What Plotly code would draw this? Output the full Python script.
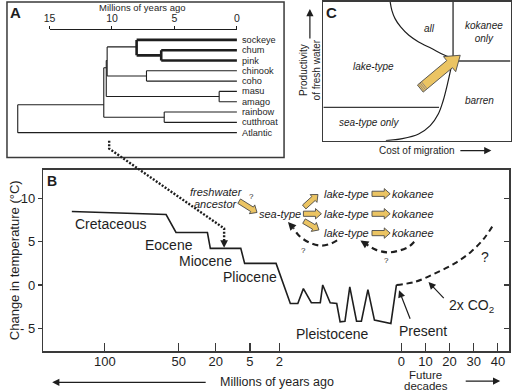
import math
import plotly.graph_objects as go

W, H = 515, 392
FONT = "Liberation Sans, Arial, Helvetica, sans-serif"
INK = "#1e1e1e"
FRAME = "#3a3a3a"
GOLD = "#EBC463"

# ---------------- Panel A: phylogeny (Millions of years ago) ----------------
species = ["sockeye", "chum", "pink", "chinook", "coho", "masu", "amago",
           "rainbow", "cutthroat", "Atlantic"]
species_row = [0, 1, 2, 3, 4, 5, 6, 7, 8, 9]
node_names = ["chum-pink", "sockeye-clade", "chinook-coho", "Oncorhynchus-1",
              "masu-amago", "Oncorhynchus-2", "rainbow-cutthroat",
              "Oncorhynchus-3", "root"]
node_age_myr = [6.06, 8.03, 7.24, 10.39, 1.42, 10.46, 5.82, 10.66, 17.55]
node_row = [1.5, 0.68, 3.5, 2.0, 5.5, 2.7, 7.5, 6.3, 7.6]
node_children = [["chum", "pink"], ["sockeye", "chum-pink"], ["chinook", "coho"],
                 ["sockeye-clade", "chinook-coho"], ["masu", "amago"],
                 ["Oncorhynchus-1", "masu-amago"], ["rainbow", "cutthroat"],
                 ["Oncorhynchus-2", "rainbow-cutthroat"], ["Oncorhynchus-3", "Atlantic"]]
lineage_highlight = ["sockeye", "chum", "pink", "chum-pink", "sockeye-clade"]
a_scale_ticks = [15, 10, 5, 0]

# ---------------- Panel B: temperature history (schematic time axis) ----------------
temp_pos = [-136.3, -97.3, -93.2, -80.2, -79.0, -66.4, -64.8, -51.8, -45.9, -42.8,
            -40.5, -37.2, -33.5, -32.5, -29.4, -26.7, -25.3, -23.3, -21.3, -18.5,
            -16.5, -13.8, -11.1, -4.3, -2.0]
temp_change = [8.5, 8.15, 6.07, 6.07, 4.23, 4.23, 2.5, 2.5, -2.15, -2.15,
               -0.42, -2.05, -2.05, 0.0, -2.05, -2.15, -4.27, -4.2, -0.23, -4.2,
               -4.2, -0.53, -4.07, -4.45, 0.0]
future_pos = [-2.0, 5.9, 14.0, 22.1, 28.9, 34.3, 38.4]
future_change = [0.0, 0.38, 1.35, 2.5, 3.85, 5.4, 7.1]
past_tick_labels = ["100", "50", "20", "5", "2"]
past_tick_pos = [-122.6, -92.1, -76.8, -62.6, -50.4]
future_tick_labels = ["0", "10", "20", "30", "40"]
future_tick_pos = [0, 10, 20, 30, 40]
temp_ticks = [10, 5, 0, -5]
temp_tick_text = ["10", "5", "0", "- 5"]
epochs = ["Cretaceous", "Eocene", "Miocene", "Pliocene", "Pleistocene"]

# ---------------- Panel C: conceptual regions ----------------
c_all_u = [0.357, 0.366, 0.383, 0.413, 0.457, 0.509, 0.579, 0.640, 0.681]
c_all_v = [1.0, 0.94, 0.88, 0.82, 0.76, 0.712, 0.664, 0.621, 0.599]
c_sea_u = [0.334, 0.422, 0.509, 0.571, 0.614, 0.640, 0.663, 0.681, 0.693]
c_sea_v = [0.0, 0.014, 0.048, 0.108, 0.192, 0.288, 0.408, 0.516, 0.588]
c_split_u = 0.693
c_split_v = 0.574
c_low_v = 0.240
c_low_end_u = 0.618
c_regions = ["all", "kokanee<br>only", "lake-type", "barren", "sea-type only"]


def fx(x):
    return x / W


def fy(y):
    return 1 - y / H


fig = go.Figure()

# ---- Panel A tree ----
row_of = dict(zip(species, species_row))
age_of = {s: 0.0 for s in species}
for n, a, r in zip(node_names, node_age_myr, node_row):
    age_of[n] = a
    row_of[n] = r
thin = ([], [])
thick = ([], [])
for n, kids in zip(node_names, node_children):
    a = age_of[n]
    rows = [row_of[k] for k in kids]
    t = thick if n in lineage_highlight else thin
    t[0].extend([a, a, None])
    t[1].extend([min(rows), max(rows), None])
    for k in kids:
        t = thick if (k in lineage_highlight and n in lineage_highlight) else thin
        t[0].extend([a, age_of[k], None])
        t[1].extend([row_of[k], row_of[k], None])

fig.add_trace(go.Scatter(x=thin[0], y=thin[1], mode="lines", xaxis="x2", yaxis="y2",
                         line=dict(color=INK, width=1.1), hoverinfo="skip"))
fig.add_trace(go.Scatter(x=thick[0], y=thick[1], mode="lines", xaxis="x2", yaxis="y2",
                         line=dict(color=INK, width=2.6), hoverinfo="skip"))
# dummy trace for the time scale axis of panel A
fig.add_trace(go.Scatter(x=[a_scale_ticks[0], a_scale_ticks[-1]], y=[0, 0], mode="markers",
                         xaxis="x4", yaxis="y4", marker=dict(opacity=0), hoverinfo="skip"))

# ---- Panel B temperature ----
fig.add_trace(go.Scatter(x=temp_pos, y=temp_change, mode="lines", xaxis="x", yaxis="y",
                         line=dict(color=INK, width=1.6), hoverinfo="skip"))
fig.add_trace(go.Scatter(x=future_pos, y=future_change, mode="lines", xaxis="x", yaxis="y",
                         line=dict(color=INK, width=2, dash="6px,4px", shape="spline"),
                         hoverinfo="skip"))
fig.add_trace(go.Scatter(x=[0], y=[0], mode="markers", xaxis="x", yaxis="y5",
                         marker=dict(opacity=0), hoverinfo="skip"))

# ---- Panel C ----
fig.add_trace(go.Scatter(x=c_all_u, y=c_all_v, mode="lines", xaxis="x3", yaxis="y3",
                         line=dict(color=INK, width=1.2, shape="spline"), hoverinfo="skip"))
fig.add_trace(go.Scatter(x=c_sea_u, y=c_sea_v, mode="lines", xaxis="x3", yaxis="y3",
                         line=dict(color=INK, width=1.2, shape="spline"), hoverinfo="skip"))
fig.add_trace(go.Scatter(x=[c_split_u, c_split_u, None, c_split_u, 1, None, 0, c_low_end_u],
                         y=[1, c_split_v, None, c_split_v, c_split_v, None, c_low_v, c_low_v],
                         mode="lines", xaxis="x3", yaxis="y3",
                         line=dict(color=FRAME, width=1.4), hoverinfo="skip"))

# ---------------- shapes & annotations ----------------
shapes = []
ann = []


def txt(x, y, text, size, bold=False, italic=False, angle=0, color=INK, pad=1):
    if italic:
        text = "<i>" + text + "</i>"
    if bold:
        text = "<b>" + text + "</b>"
    ann.append(dict(x=fx(x), y=fy(y), xref="paper", yref="paper", text=text,
                    showarrow=False, textangle=angle, xanchor="center", yanchor="middle",
                    borderpad=pad, font=dict(family=FONT, size=size, color=color)))


def arrow(tip, tail, width=1.2, size=1.2, color=INK):
    ann.append(dict(x=fx(tip[0]), y=fy(tip[1]), xref="paper", yref="paper", text="",
                    showarrow=True, ax=tail[0] - tip[0], ay=tail[1] - tip[1],
                    axref="pixel", ayref="pixel", arrowhead=2, arrowsize=size,
                    arrowwidth=width, arrowcolor=color, standoff=0, startstandoff=0))


def poly_path(pts, close=True):
    s = "M " + " L ".join(f"{fx(x):.5f},{fy(y):.5f}" for x, y in pts)
    return s + (" Z" if close else "")


def block_arrow(x0, y0, x1, y1, bw, hw, hl, fill=GOLD, line="#4a4a4a"):
    dx, dy = x1 - x0, y1 - y0
    L = math.hypot(dx, dy)
    ux, uy = dx / L, dy / L
    nx, ny = -uy, ux
    bx, by = x1 - ux * hl, y1 - uy * hl
    pts = [(x0 + nx * bw, y0 + ny * bw), (bx + nx * bw, by + ny * bw),
           (bx + nx * hw, by + ny * hw), (x1, y1), (bx - nx * hw, by - ny * hw),
           (bx - nx * bw, by - ny * bw), (x0 - nx * bw, y0 - ny * bw)]
    shapes.append(dict(type="path", xref="paper", yref="paper", path=poly_path(pts),
                       fillcolor=fill, line=dict(color=line, width=0.9)))
    return ux, uy, nx, ny


def smooth_path(pts):
    P = [(fx(x), fy(y)) for x, y in pts]
    d = f"M{P[0][0]:.5f},{P[0][1]:.5f}"
    for i in range(len(P) - 1):
        p0 = P[i - 1] if i > 0 else P[i]
        p1, p2 = P[i], P[i + 1]
        p3 = P[i + 2] if i + 2 < len(P) else P[i + 1]
        c1 = (p1[0] + (p2[0] - p0[0]) / 6, p1[1] + (p2[1] - p0[1]) / 6)
        c2 = (p2[0] - (p3[0] - p1[0]) / 6, p2[1] - (p3[1] - p1[1]) / 6)
        d += f" C{c1[0]:.5f},{c1[1]:.5f} {c2[0]:.5f},{c2[1]:.5f} {p2[0]:.5f},{p2[1]:.5f}"
    return d


# panel frames (A and B/C frames from axes)
shapes.append(dict(type="rect", xref="paper", yref="paper", x0=fx(1), x1=fx(283),
                   y0=fy(157), y1=fy(1), line=dict(color=FRAME, width=1.5)))

# dotted link from tree node to panel B
shapes.append(dict(type="path", xref="paper", yref="paper",
                   path=poly_path([(105, 140), (105, 148), (222, 228), (222, 241)], close=False),
                   line=dict(color=INK, width=2.4, dash="2px,1.6px")))
arrow((222, 247.5), (222, 239), width=1.4, size=1.1)

# panel A texts
txt(10, 12, "A", 15, bold=True)
txt(139, 7, "Millions of years ago", 9.5)
for s, r in zip(species, species_row):
    ann.append(dict(x=0, y=r, xref="x2", yref="y2", text=s, showarrow=False,
                    xanchor="left", yanchor="middle", xshift=3,
                    font=dict(family=FONT, size=9.2, color=INK)))

# panel C texts
txt(331, 12, "C", 15, bold=True)
c_label_xy = [(431, 28), (486, 31), (374, 66), (482, 100), (369, 122)]
for lab, (x, y) in zip(c_regions, c_label_xy):
    txt(x, y, lab, 10, italic=True)
txt(309, 69, "Productivity<br>of fresh water", 10, angle=-90)
arrow((309.3, 8), (309.3, 39))
txt(418, 150, "Cost of migration", 10)
arrow((494, 150), (461.5, 150))
ux, uy, nx, ny = block_arrow(421.7, 87.8, 462.3, 54.4, 4.6, 9.8, 14)
for d in (1.6, 3.4, 5.2):
    cx, cy = 421.7 + ux * d, 87.8 + uy * d
    shapes.append(dict(type="line", xref="paper", yref="paper",
                       x0=fx(cx + nx * 4.4), y0=fy(cy + ny * 4.4),
                       x1=fx(cx - nx * 4.4), y1=fy(cy - ny * 4.4),
                       line=dict(color="#8a8080", width=0.9)))

# panel B texts
txt(47, 180, "B", 14, bold=True)
epoch_xy = [(107, 224), (166, 245), (203, 260.5), (248, 276.5), (332.5, 334)]
for lab, (x, y) in zip(epochs, epoch_xy):
    txt(x, y, lab, 14)
txt(424, 330.5, "Present", 14)
arrow((400, 290), (411.7, 320))
txt(474, 305.5, "2x CO<sub>2</sub>", 14)
arrow((430, 281.7), (446.7, 299.3))
txt(488, 257, "?", 14)
txt(8, 260, "Change in temperature (°C)", 13, angle=-90)
txt(276, 382, "Millions of years ago", 12.5)
arrow((47, 382.3), (202, 382.3))
txt(427, 374.5, "Future", 11.5, pad=0)
txt(427, 386.3, "decades", 11.5, pad=0)
arrow((503, 381), (467, 381))

# life-history scenario in panel B
txt(214, 191, "freshwater", 11, italic=True)
txt(214, 204, "ancestor", 11, italic=True)
txt(250, 196.5, "?", 8)
block_arrow(237.3, 200.7, 255.5, 212, 2.6, 5.2, 6)
txt(279.2, 213.3, "sea-type", 11, italic=True)
lake_rows = [193.3, 213.3, 232.7]
block_arrow(303.5, 206.5, 317.5, 194, 2.6, 5.2, 6)
block_arrow(302.7, 213.3, 321, 213.3, 2.6, 5.2, 6)
block_arrow(303.3, 220.7, 318.5, 229.5, 2.6, 5.2, 6)
for y in lake_rows:
    txt(346.3, y, "lake-type", 11, italic=True)
    block_arrow(372.5, y, 391, y, 2.6, 5.2, 6)
    txt(414.2, y, "kokanee", 11, italic=True)

shapes.append(dict(type="path", xref="paper", yref="paper",
                   path=smooth_path([(337, 240), (330, 243.5), (320, 245.3), (308.3, 242),
                                     (298.3, 235.3), (292.6, 227.7)]),
                   line=dict(color=INK, width=2.2, dash="6px,4px")))
arrow((287, 221.5), (292.6, 227.7), width=1.8, size=0.9)
txt(302.7, 250.5, "?", 8)
shapes.append(dict(type="path", xref="paper", yref="paper",
                   path=smooth_path([(415.5, 241.5), (410, 246.3), (400, 250.3), (388.3, 252),
                                     (376.7, 249.5), (367.3, 244.4)]),
                   line=dict(color=INK, width=2.2, dash="6px,4px")))
arrow((360.7, 240), (367.3, 244.4), width=1.8, size=0.9)
txt(387.7, 260.5, "?", 8)

# ---------------- axes ----------------
B_x0, B_x1, B_y0, B_y1 = 38, 512, 351, 169
u_per_px = 1 / 2.46
b_xrange = [(B_x0 - 402.3) * u_per_px, (B_x1 - 402.3) * u_per_px]
b_yrange = [(284.7 - B_y0) / 8.667, (284.7 - B_y1) / 8.667]

axis_font = dict(family=FONT, size=13, color=INK)
fig.update_layout(
    width=W, height=H, autosize=False,
    margin=dict(l=0, r=0, t=0, b=0),
    paper_bgcolor="white", plot_bgcolor="rgba(0,0,0,0)",
    showlegend=False, hovermode=False,
    font=dict(family=FONT, color=INK),
    xaxis=dict(domain=[fx(B_x0), fx(B_x1)], range=b_xrange, anchor="y",
               showgrid=False, zeroline=False, showline=True, mirror=True,
               linecolor=FRAME, linewidth=1.5, ticks="inside", ticklen=8,
               tickcolor=FRAME, tickwidth=1.1, ticklabelstandoff=-2,
               tickvals=past_tick_pos + future_tick_pos,
               ticktext=past_tick_labels + future_tick_labels, tickfont=axis_font),
    yaxis=dict(domain=[fy(B_y0), fy(B_y1)], range=b_yrange, anchor="x",
               showgrid=False, zeroline=False, showline=True, mirror=True,
               linecolor=FRAME, linewidth=1.5, ticks="outside", ticklen=4,
               tickcolor=FRAME, tickwidth=1.1, tickvals=temp_ticks,
               ticktext=temp_tick_text, tickfont=axis_font),
    yaxis5=dict(overlaying="y", side="right", anchor="x", range=b_yrange,
                showgrid=False, zeroline=False, showline=False, ticks="inside",
                ticklen=5, tickcolor=FRAME, tickwidth=1.1, tickvals=temp_ticks,
                showticklabels=False),
    xaxis2=dict(domain=[fx(2), fx(282)], range=[(235 - 2) / 12.71, (235 - 282) / 12.71],
                anchor="y2", visible=False),
    yaxis2=dict(domain=[fy(156), fy(31)], range=[(156 - 39) / 10.33, (31 - 39) / 10.33],
                anchor="x2", visible=False),
    xaxis4=dict(domain=[fx(44.3), fx(235)], range=[15, 0], anchor="y4", side="top",
                showgrid=False, zeroline=False, showline=True, linecolor=INK, linewidth=1,
                ticks="outside", ticklen=3, tickcolor=INK, tickwidth=1,
                tickvals=a_scale_ticks, tickfont=dict(family=FONT, size=10.5, color=INK)),
    yaxis4=dict(domain=[fy(30), fy(29.4)], range=[-1, 1], anchor="x4", visible=False),
    xaxis3=dict(domain=[fx(323), fx(513.5)], range=[0, 1], anchor="y3",
                showgrid=False, zeroline=False, showline=True, mirror=True,
                linecolor=FRAME, linewidth=1.5, showticklabels=False, ticks=""),
    yaxis3=dict(domain=[fy(140), fy(1)], range=[0, 1], anchor="x3",
                showgrid=False, zeroline=False, showline=True, mirror=True,
                linecolor=FRAME, linewidth=1.5, showticklabels=False, ticks=""),
    shapes=shapes, annotations=ann,
)

fig.write_html(
    "out.html",
    config={"displayModeBar": False, "staticPlot": True},
    post_script="document.body.style.margin='0px';document.body.style.overflow='hidden';",
)
